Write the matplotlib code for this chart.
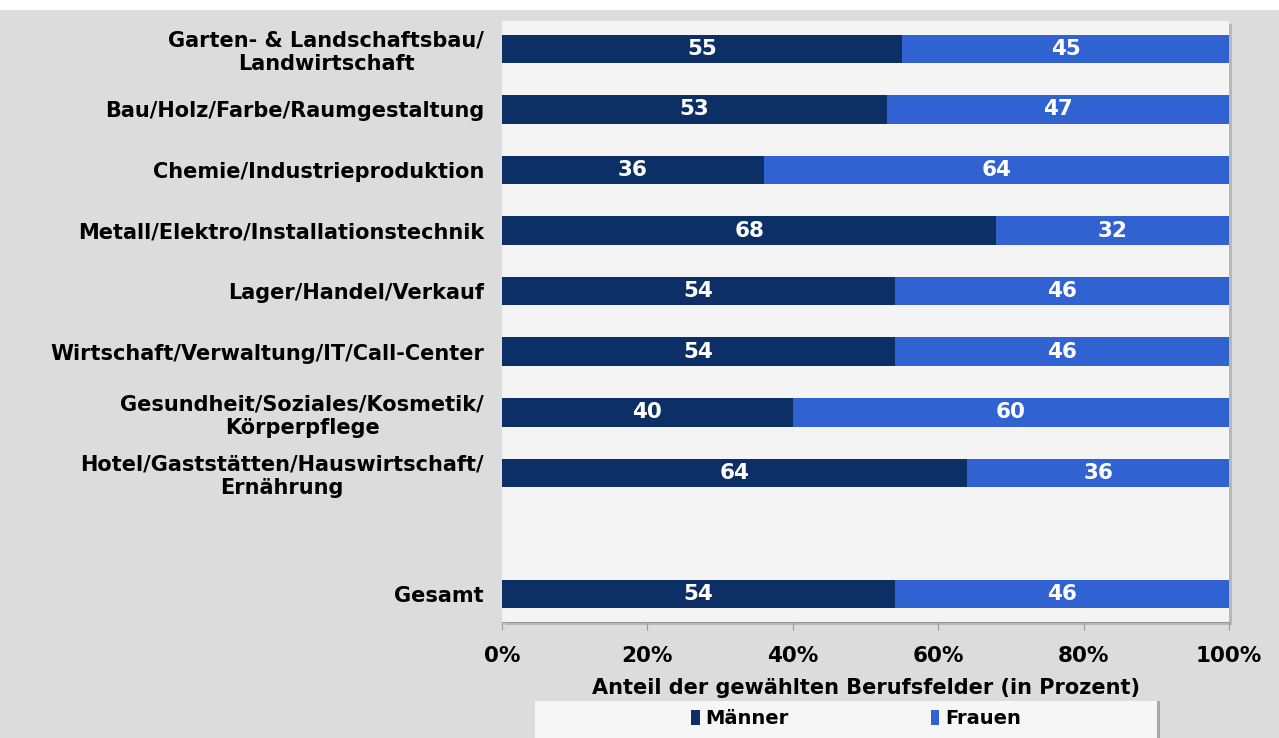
import matplotlib.pyplot as plt
from matplotlib.patches import Patch, Rectangle

categories = [
    "Garten- & Landschaftsbau/\nLandwirtschaft",
    "Bau/Holz/Farbe/Raumgestaltung",
    "Chemie/Industrieproduktion",
    "Metall/Elektro/Installationstechnik",
    "Lager/Handel/Verkauf",
    "Wirtschaft/Verwaltung/IT/Call-Center",
    "Gesundheit/Soziales/Kosmetik/\nKörperpflege",
    "Hotel/Gaststätten/Hauswirtschaft/\nErnährung",
    "",
    "Gesamt",
]
maenner = [55, 53, 36, 68, 54, 54, 40, 64, None, 54]
frauen = [45, 47, 64, 32, 46, 46, 60, 36, None, 46]
xticks = [0, 20, 40, 60, 80, 100]
xtick_labels = ["0%", "20%", "40%", "60%", "80%", "100%"]
series_names = ["Männer", "Frauen"]

NAVY = "#0c2f66"
BLUE = "#3062d2"
BG = "#dcdcdc"
PLOT_BG = "#f4f4f4"

fig = plt.figure(figsize=(12.79, 7.38), dpi=100, facecolor=BG)
# white strip along the top edge
fig.patches.append(Rectangle((0, 0.987), 1, 0.013, transform=fig.transFigure,
                             facecolor="white", edgecolor="none", zorder=0))

ax = fig.add_axes([0.3925, 0.1572, 0.5685, 0.8145])
ax.set_zorder(2)
# soft shadow behind the plot area
fig.patches.append(Rectangle((0.3925 + 0.002, 0.1572 - 0.004), 0.5685, 0.8145,
                             transform=fig.transFigure, facecolor="#b8b8b8",
                             edgecolor="none", zorder=0))
ax.set_facecolor(PLOT_BG)

rows = list(range(len(categories)))
for i in rows:
    m, f = maenner[i], frauen[i]
    if m is None:
        continue
    ax.barh(i, m, height=0.47, color=NAVY, edgecolor="none")
    ax.barh(i, f, left=m, height=0.47, color=BLUE, edgecolor="none")
    ax.text(m / 2, i, str(m), ha="center", va="center", color="white",
            fontsize=15.5, fontweight="bold")
    ax.text(m + f / 2, i, str(f), ha="center", va="center", color="white",
            fontsize=15.5, fontweight="bold")

ax.set_xlim(0, 100)
ax.set_ylim(len(categories) - 0.54, -0.46)
ax.set_yticks(rows)
ax.set_yticklabels(categories, fontsize=15, fontweight="bold", multialignment="center")
ax.tick_params(axis="y", length=0, pad=13)
ax.set_xticks(xticks)
ax.set_xticklabels(xtick_labels, fontsize=15.5, fontweight="bold")
ax.tick_params(axis="x", length=6, color="#999999", pad=11)
ax.set_xlabel("Anteil der gewählten Berufsfelder (in Prozent)", fontsize=15,
              fontweight="bold", labelpad=9)

for side in ["top", "right", "left"]:
    ax.spines[side].set_visible(False)
ax.spines["bottom"].set_color("#999999")

# legend box at the bottom, partly cut off
fig.patches.append(Rectangle((538 / 1279, -0.02), 622 / 1279, 0.07,
                             transform=fig.transFigure, facecolor="#a8a8a8",
                             edgecolor="none", zorder=1))
fig.patches.append(Rectangle((535 / 1279, -0.02), 622 / 1279, 0.07,
                             transform=fig.transFigure, facecolor="#f6f6f6",
                             edgecolor="none", zorder=1))
handles = [Patch(facecolor=NAVY), Patch(facecolor=BLUE)]
leg = fig.legend(handles, series_names, loc="center", ncol=2,
                 bbox_to_anchor=(856 / 1279, 1 - 719 / 738), frameon=False,
                 prop={"weight": "bold", "size": 14}, handlelength=0.45,
                 handleheight=0.8, handletextpad=0.3, columnspacing=7.3)
leg.set_zorder(3)

fig.savefig("out.png", dpi=100, facecolor=BG)
